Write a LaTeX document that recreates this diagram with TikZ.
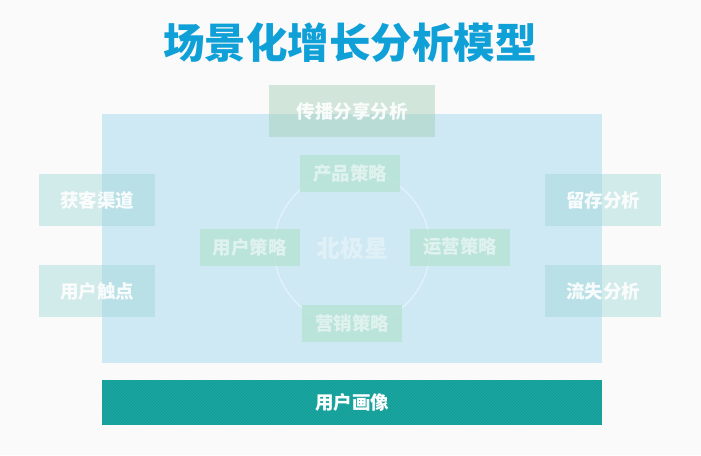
\documentclass[tikz,border=0pt]{standalone}
\usepackage{fontspec}
\setmainfont{Noto Sans CJK SC}
\usetikzlibrary{patterns}
\definecolor{bgc}{RGB}{250,250,250}
\definecolor{titlec}{RGB}{16,160,216}
\definecolor{bigc}{RGB}{207,233,244}
\definecolor{topc}{RGB}{160,205,180}
\definecolor{sidec}{RGB}{160,215,215}
\definecolor{innerc}{RGB}{180,226,208}
\definecolor{barc}{RGB}{19,160,154}
\tikzset{
  lbl/.style={text=white, font=\fontsize{18.5}{18.5}\selectfont\bfseries},
  sidebox/.style={fill=sidec, fill opacity=0.45, text opacity=0.9, minimum width=116pt, minimum height=52pt, inner sep=0pt, lbl},
  innerbox/.style={fill=innerc, fill opacity=0.75, text opacity=0.55, minimum width=100pt, minimum height=37pt, inner sep=0pt, lbl},
}
\begin{document}
\begin{tikzpicture}[x=1pt,y=-1pt]
\fill[bgc] (0,0) rectangle (701,455);
\useasboundingbox (0,0) rectangle (701,455);
\node[text=titlec, font=\fontsize{41.5}{41.5}\selectfont\bfseries] (title) at (350,43) {场景化增长分析模型};
\node[fill=bigc, minimum width=500pt, minimum height=249pt, inner sep=0pt] (big) at (352,238.5) {};
\node[fill=topc, fill opacity=0.45, text opacity=0.9, minimum width=166pt, minimum height=52pt, inner sep=0pt, lbl] (share) at (352,111) {传播分享分析};
\node[sidebox] (acq) at (97,200) {获客渠道};
\node[sidebox] (touch) at (97,291) {用户触点};
\node[sidebox] (ret) at (603,200) {留存分析};
\node[sidebox] (churn) at (603,291) {流失分析};
\node[draw=white, draw opacity=0.45, line width=1.2pt, circle, minimum size=156pt, inner sep=0pt] (circ) at (352,248) {};
\node[text=white, text opacity=0.35, font=\fontsize{24}{24}\selectfont\bfseries] (star) at (352,248) {北极星};
\node[innerbox] (prod) at (350,173.5) {产品策略};
\node[innerbox] (user) at (249.5,247.5) {用户策略};
\node[innerbox] (ops) at (460,247) {运营策略};
\node[innerbox] (mkt) at (352,323.5) {营销策略};
\node[fill=barc, minimum width=500pt, minimum height=45pt, inner sep=0pt] (bar) at (352,402.5) {};
\fill[pattern=north west lines, pattern color=white, opacity=0.08] (bar.south west) rectangle (bar.north east);
\node[lbl] (persona) at (bar.center) {用户画像};
\end{tikzpicture}
\end{document}
